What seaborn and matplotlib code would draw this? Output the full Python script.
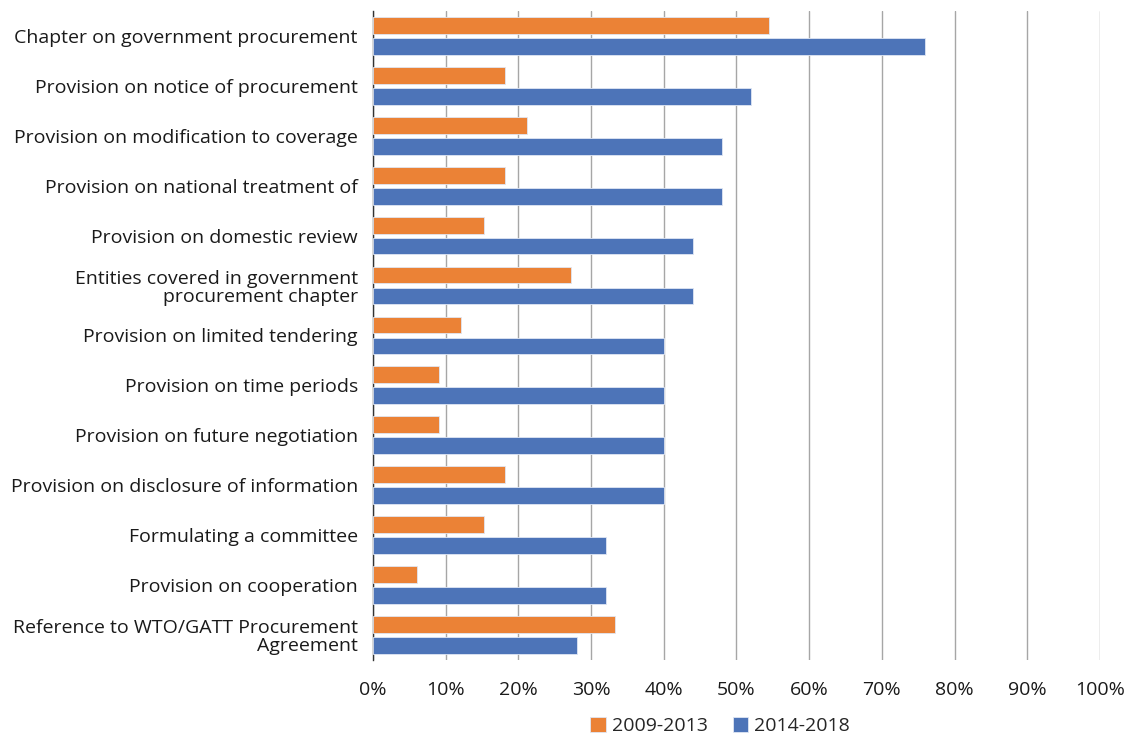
import matplotlib
matplotlib.use("Agg")
import matplotlib.pyplot as plt
import seaborn as sns
import pandas as pd
from matplotlib.ticker import PercentFormatter, MultipleLocator

categories = [
    "Chapter on government procurement",
    "Provision on notice of procurement",
    "Provision on modification to coverage",
    "Provision on national treatment of",
    "Provision on domestic review",
    "Entities covered in government\nprocurement chapter",
    "Provision on limited tendering",
    "Provision on time periods",
    "Provision on future negotiation",
    "Provision on disclosure of information",
    "Formulating a committee",
    "Provision on cooperation",
    "Reference to WTO/GATT Procurement\nAgreement",
]
periods = ["2009-2013", "2014-2018"]
share_2009_2013 = [54.5, 18.2, 21.2, 18.2, 15.2, 27.3, 12.1, 9.1, 9.1, 18.2, 15.2, 6.1, 33.3]
share_2014_2018 = [76.0, 52.0, 48.0, 48.0, 44.0, 44.0, 40.0, 40.0, 40.0, 40.0, 32.0, 32.0, 28.0]
colors = ["#EB8236", "#4D74B8"]

df = pd.DataFrame({
    "category": categories * 2,
    "period": [periods[0]] * len(categories) + [periods[1]] * len(categories),
    "share": share_2009_2013 + share_2014_2018,
})

sns.set_theme(style="white")
plt.rcParams["font.family"] = ["Open Sans", "DejaVu Sans"]
FS = 14.0

fig = plt.figure(figsize=(11.27, 7.38), dpi=100)
ax = fig.add_axes([0.331, 0.106, 0.645, 0.879])

sns.barplot(
    data=df, y="category", x="share", hue="period", orient="h",
    order=categories, hue_order=periods, palette=colors, saturation=1,
    width=0.84, gap=0.2, edgecolor="#dfe6f3", linewidth=0.6,
    ax=ax, zorder=3,
)

ax.set_xlim(0, 100)
ax.xaxis.set_major_locator(MultipleLocator(10))
ax.xaxis.set_major_formatter(PercentFormatter(decimals=0))
ax.grid(axis="x", color="#A6A6A6", linewidth=1.0, zorder=0)
ax.grid(axis="y", visible=False)
ax.set_axisbelow(True)
ax.set_xlabel("")
ax.set_ylabel("")

for side in ["top", "right", "bottom"]:
    ax.spines[side].set_visible(False)
ax.spines["left"].set_color("#333333")
ax.spines["left"].set_linewidth(1.0)

ax.tick_params(axis="y", length=0, pad=11, labelsize=FS, labelcolor="#1a1a1a")
ax.tick_params(axis="x", length=0, pad=15, labelsize=FS, labelcolor="#1a1a1a")
for lbl in ax.get_yticklabels():
    lbl.set_linespacing(1.0)

sns.move_legend(
    ax, "center", bbox_to_anchor=(0.639, 0.016), bbox_transform=fig.transFigure,
    ncol=2, frameon=False, title=None, fontsize=FS,
    handlelength=0.8, handleheight=0.8, handletextpad=0.3, columnspacing=1.3,
)

fig.savefig("out.png", dpi=100)
